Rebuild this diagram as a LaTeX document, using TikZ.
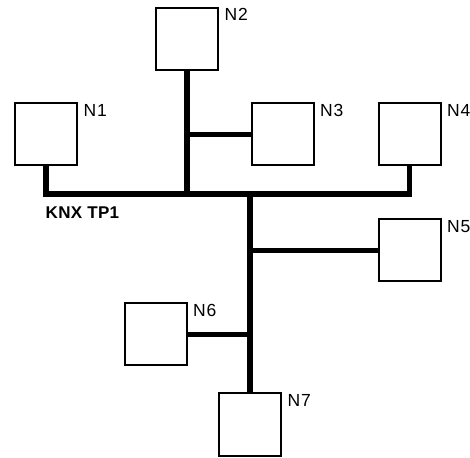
\documentclass[tikz,border=0pt]{standalone}
\usepackage{fontspec}
\setmainfont{Liberation Sans}
\begin{document}
\begin{tikzpicture}[x=1pt,y=1pt,
  dev/.style={draw=black, line width=2pt, minimum size=62pt, inner sep=0pt, fill=white},
  bus/.style={line width=5.5pt, black},
  lbl/.style={inner sep=0pt, anchor=north west, font=\fontsize{17.5}{19}\selectfont\addfontfeature{LetterSpace=5}},
  buslbl/.style={inner sep=0pt, anchor=north west, font=\fontsize{17}{19}\selectfont\bfseries\addfontfeature{LetterSpace=2}}]
\useasboundingbox (0,0) rectangle (470,457);
% devices (centres in pixel coords, y flipped)
\node[dev] (N1) at (46,{457-134.5}) {};
\node[dev] (N2) at (187,{457-39}) {};
\node[dev] (N3) at (282.5,{457-134.5}) {};
\node[dev] (N4) at (409.5,{457-134.5}) {};
\node[dev] (N5) at (409.5,{457-250.5}) {};
\node[dev] (N6) at (155.5,{457-334.5}) {};
\node[dev] (N7) at (250,{457-424.5}) {};
% labels
\node[lbl] (l1) at ([shift={(5.5pt,-1.5pt)}]N1.north east) {N1};
\node[lbl] (l2) at ([shift={(5.5pt,-1.5pt)}]N2.north east) {N2};
\node[lbl] (l3) at ([shift={(5.5pt,-1.5pt)}]N3.north east) {N3};
\node[lbl] (l4) at ([shift={(5.5pt,-1.5pt)}]N4.north east) {N4};
\node[lbl] (l5) at ([shift={(5.5pt,-1.5pt)}]N5.north east) {N5};
\node[lbl] (l6) at ([shift={(5.5pt,-1.5pt)}]N6.north east) {N6};
\node[lbl] (l7) at ([shift={(5.5pt,-1.5pt)}]N7.north east) {N7};
\node[buslbl] (knx) at (45.5,{457-207}) {KNX TP1};
% bus
\coordinate (jb) at (250,{457-194});
\draw[bus] (N1.south) |- (jb) -| (N4.south);
\draw[bus] (N2.south) -- (N2.south |- jb);
\draw[bus] (N3.west) -- (N3.west -| N2.south);
\draw[bus] (jb) -- (N7.north);
\draw[bus] (N5.west) -- (N5.west -| jb);
\draw[bus] (N6.east) -- (N6.east -| jb);
\end{tikzpicture}
\end{document}
